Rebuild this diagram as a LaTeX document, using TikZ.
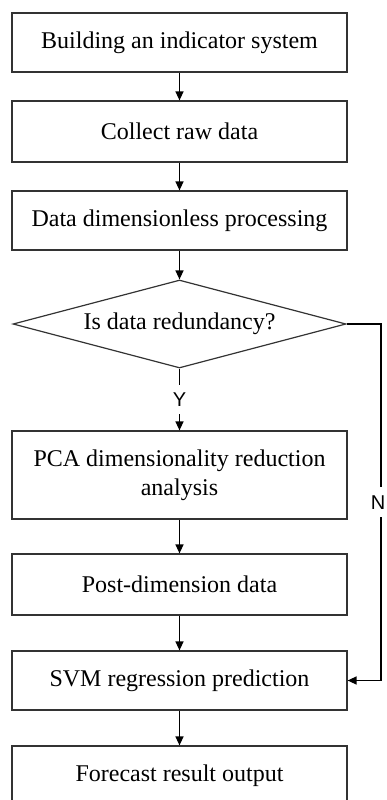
\documentclass[tikz,border=0pt]{standalone}
\usepackage{fontspec}
\setmainfont{Liberation Serif}
\newfontfamily\labfont{Liberation Sans}
\usetikzlibrary{shapes.geometric,arrows.meta}
\begin{document}
\begin{tikzpicture}[x=1pt,y=-1pt,
  stepbox/.style={draw=black!80,line width=1.2pt,rectangle,minimum width=335pt,inner sep=0pt,
    font=\fontsize{24}{29}\selectfont,align=center},
  decision/.style={draw=black!80,line width=1.2pt,diamond,aspect=3.78,minimum width=333pt,minimum height=88pt,
    inner sep=0pt,font=\fontsize{24}{29}\selectfont},
  flow/.style={line width=1.3pt,-{Triangle[length=9pt,width=8pt]}},
  lab/.style={fill=white,font=\labfont\fontsize{20}{24}\selectfont,inner xsep=1pt,inner ysep=8pt,text depth=0pt}
]
\useasboundingbox (0,0) rectangle (386,800);
\node[stepbox,minimum height=59pt] (b1) at (179.5,42.5) {Building an indicator system};
\node[stepbox,minimum height=61pt] (b2) at (179.5,131.5) {Collect raw data};
\node[stepbox,minimum height=59pt] (b3) at (179.5,220.5) {Data dimensionless processing};
\node[decision] (d) at (179.5,324) {Is data redundancy?};
\node[stepbox,minimum height=88pt] (pca) at (179.5,475) {PCA dimensionality reduction\\analysis};
\node[stepbox,minimum height=61pt] (post) at (179.5,584.5) {Post-dimension data};
\node[stepbox,minimum height=59pt] (svm) at (179.5,680.5) {SVM regression prediction};
\node[stepbox,minimum height=60pt] (out) at (179.5,776) {Forecast result output};
\coordinate (c1) at (381,324);
\coordinate (c2) at (381,680.5);
\draw[flow] (b1) -- (b2);
\draw[flow] (b2) -- (b3);
\draw[flow] (b3) -- (d);
\draw[flow] (d.south) -- node[lab] (y) {Y} (pca.north);
\draw[flow] (pca) -- (post);
\draw[flow] (post) -- (svm);
\draw[flow] (svm) -- (out);
\draw[flow] (d.east) -- (c1) -- node[lab,xshift=-3pt] (n) {N} (c2) -- (svm.east);
\end{tikzpicture}
\end{document}
